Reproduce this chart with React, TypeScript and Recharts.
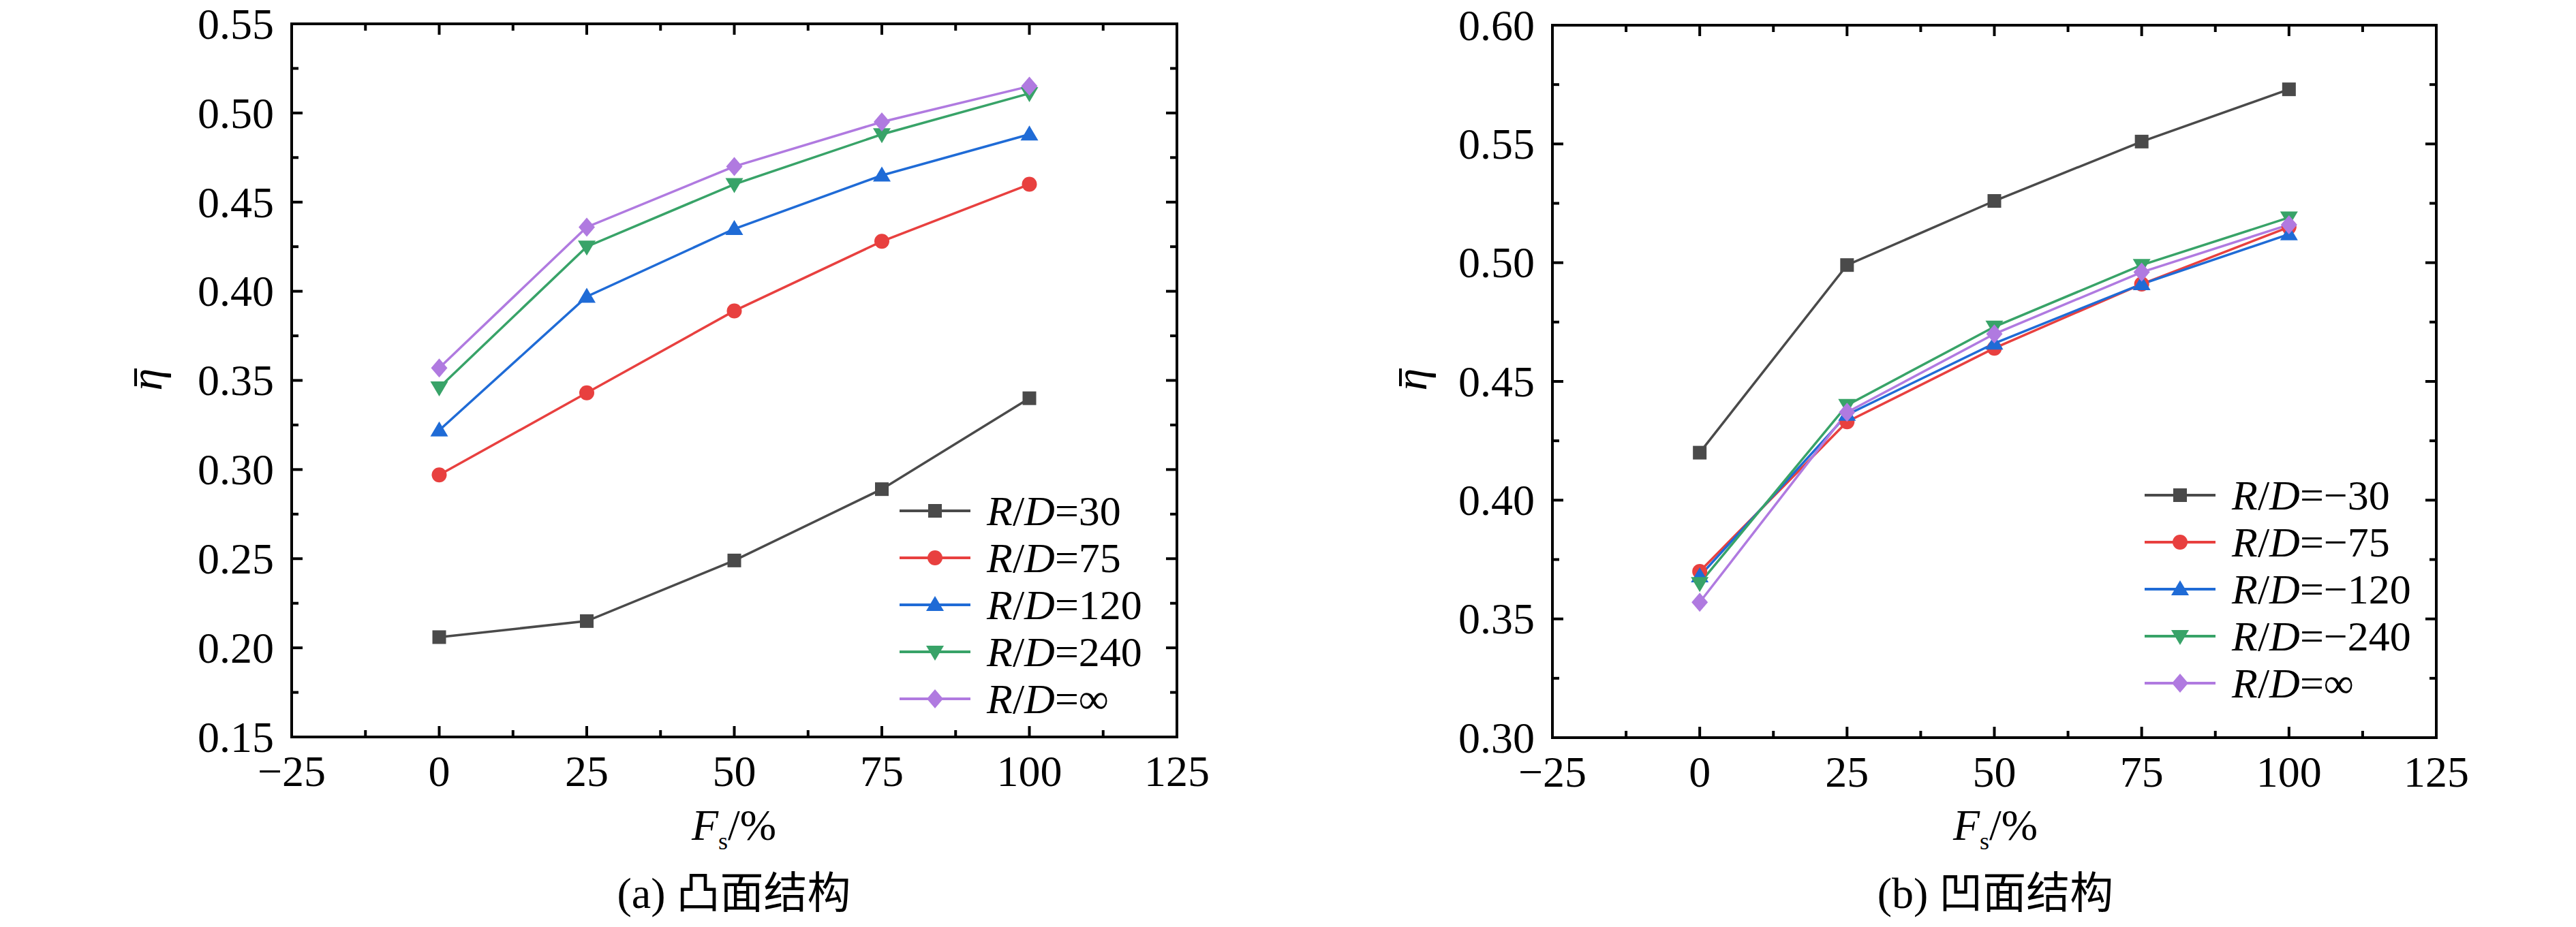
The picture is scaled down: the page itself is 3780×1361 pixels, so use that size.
import React from "react"
import { LineChart, Line, XAxis, YAxis } from "recharts"

// x positions (F_s, %)
const FS = [0, 25, 50, 75, 100]

// (a) convex
const CONVEX_30 = [0.206, 0.215, 0.249, 0.289, 0.34]
const CONVEX_75 = [0.297, 0.343, 0.389, 0.428, 0.46]
const CONVEX_120 = [0.322, 0.397, 0.435, 0.465, 0.488]
const CONVEX_240 = [0.346, 0.425, 0.46, 0.488, 0.511]
const CONVEX_INF = [0.357, 0.436, 0.47, 0.495, 0.515]

// (b) concave
const CONCAVE_30 = [0.42, 0.499, 0.526, 0.551, 0.573]
const CONCAVE_75 = [0.37, 0.433, 0.464, 0.491, 0.515]
const CONCAVE_120 = [0.368, 0.436, 0.466, 0.491, 0.512]
const CONCAVE_240 = [0.365, 0.44, 0.473, 0.499, 0.519]
const CONCAVE_INF = [0.357, 0.437, 0.47, 0.496, 0.516]

const LABELS_A = ["30", "75", "120", "240", "∞"]
const LABELS_B = ["−30", "−75", "−120", "−240", "∞"]

// major + minor ticks (even index = major)
const X_TICKS = [-25, -12.5, 0, 12.5, 25, 37.5, 50, 62.5, 75, 87.5, 100, 112.5, 125]
const Y_TICKS_A = [0.15, 0.175, 0.2, 0.225, 0.25, 0.275, 0.3, 0.325, 0.35, 0.375, 0.4, 0.425, 0.45, 0.475, 0.5, 0.525, 0.55]
const Y_TICKS_B = [0.3, 0.325, 0.35, 0.375, 0.4, 0.425, 0.45, 0.475, 0.5, 0.525, 0.55, 0.575, 0.6]

const SERIES = [
  { key: "s30", color: "#4a4a4a", shape: "square" },
  { key: "s75", color: "#e8403f", shape: "circle" },
  { key: "s120", color: "#1f6bd6", shape: "triUp" },
  { key: "s240", color: "#38a368", shape: "triDown" },
  { key: "sInf", color: "#b07ae0", shape: "diamond" },
]

const SERIF = '"Liberation Serif", "Times New Roman", serif'
const FS_TICK = 64

function build(cols: number[][]) {
  return FS.map((x, i) => ({
    x,
    s30: cols[0][i],
    s75: cols[1][i],
    s120: cols[2][i],
    s240: cols[3][i],
    sInf: cols[4][i],
  }))
}

const DATA_A = build([CONVEX_30, CONVEX_75, CONVEX_120, CONVEX_240, CONVEX_INF])
const DATA_B = build([CONCAVE_30, CONCAVE_75, CONCAVE_120, CONCAVE_240, CONCAVE_INF])

function Marker({ shape, cx, cy, color }: any) {
  if (cx == null || cy == null) return null
  switch (shape) {
    case "square":
      return <rect x={cx - 10} y={cy - 10} width={20} height={20} fill={color} />
    case "circle":
      return <circle cx={cx} cy={cy} r={11} fill={color} />
    case "triUp":
      return <path d={`M${cx},${cy - 13} L${cx + 13},${cy + 9} L${cx - 13},${cy + 9} Z`} fill={color} />
    case "triDown":
      return <path d={`M${cx},${cy + 13} L${cx + 13},${cy - 9} L${cx - 13},${cy - 9} Z`} fill={color} />
    default:
      return <path d={`M${cx},${cy - 14} L${cx + 12},${cy} L${cx},${cy + 14} L${cx - 12},${cy} Z`} fill={color} />
  }
}

const fmtX = (v: number) => (v < 0 ? "−" + Math.abs(v) : String(v))

const BottomTick = ({ x, y, payload, index }: any) => {
  const major = index % 2 === 0
  return (
    <g>
      <line x1={x} x2={x} y1={y} y2={y - (major ? 16 : 10)} stroke="#000" strokeWidth={4} />
      {major && (
        <text x={x} y={y + 72} textAnchor="middle" fontSize={FS_TICK} fontFamily={SERIF} fill="#000">
          {fmtX(payload.value)}
        </text>
      )}
    </g>
  )
}

const TopTick = ({ x, y, index }: any) => (
  <line x1={x} x2={x} y1={y} y2={y + (index % 2 === 0 ? 16 : 10)} stroke="#000" strokeWidth={4} />
)

const LeftTick = ({ x, y, payload, index }: any) => {
  const major = index % 2 === 0
  return (
    <g>
      <line x1={x} x2={x + (major ? 16 : 10)} y1={y} y2={y} stroke="#000" strokeWidth={4} />
      {major && (
        <text x={x - 26} y={y} dy="0.34em" textAnchor="end" fontSize={FS_TICK} fontFamily={SERIF} fill="#000">
          {payload.value.toFixed(2)}
        </text>
      )}
    </g>
  )
}

const RightTick = ({ x, y, index }: any) => (
  <line x1={x} x2={x - (index % 2 === 0 ? 16 : 10)} y1={y} y2={y} stroke="#000" strokeWidth={4} />
)

const AXIS_LINE = { stroke: "#000", strokeWidth: 4, strokeLinecap: "square" as const }

function Panel({ data, yTicks, left, margin }: any) {
  const domain = [yTicks[0], yTicks[yTicks.length - 1]]
  return (
    <div style={{ position: "absolute", left, top: 0 }}>
      <LineChart width={1890} height={1361} data={data} margin={margin}>
        <XAxis
          dataKey="x" type="number" domain={[-25, 125]} ticks={X_TICKS} interval={0}
          height={1} tickSize={0} tickMargin={0} tickLine={false} axisLine={AXIS_LINE}
          tick={<BottomTick />} allowDataOverflow
        />
        <XAxis
          xAxisId="t" orientation="top" dataKey="x" type="number" domain={[-25, 125]} ticks={X_TICKS}
          interval={0} height={1} tickSize={0} tickMargin={0} tickLine={false} axisLine={AXIS_LINE}
          tick={<TopTick />} allowDataOverflow
        />
        <YAxis
          type="number" domain={domain} ticks={yTicks} interval={0} width={1}
          tickSize={0} tickMargin={0} tickLine={false} axisLine={AXIS_LINE}
          tick={<LeftTick />} allowDataOverflow
        />
        <YAxis
          yAxisId="r" orientation="right" type="number" domain={domain} ticks={yTicks} interval={0} width={1}
          tickSize={0} tickMargin={0} tickLine={false} axisLine={AXIS_LINE}
          tick={<RightTick />} allowDataOverflow
        />
        {SERIES.map(s => (
          <Line
            key={s.key}
            type="linear"
            dataKey={s.key}
            stroke={s.color}
            strokeWidth={3.5}
            isAnimationActive={false}
            dot={(p: any) => <Marker key={`${s.key}-${p.index}`} shape={s.shape} cx={p.cx} cy={p.cy} color={s.color} />}
            activeDot={false}
          />
        ))}
      </LineChart>
    </div>
  )
}

function LegendBlock({ x, y, labels }: any) {
  return (
    <g>
      {SERIES.map((s, i) => {
        const cy = y + i * 69
        return (
          <g key={s.key}>
            <line x1={x} x2={x + 104} y1={cy} y2={cy} stroke={s.color} strokeWidth={4} />
            <Marker shape={s.shape} cx={x + 52} cy={cy} color={s.color} />
            <text x={x + 128} y={cy} dy="0.34em" fontSize={62} fontFamily={SERIF} fill="#000">
              <tspan fontStyle="italic">R</tspan>/<tspan fontStyle="italic">D</tspan>={labels[i]}
            </text>
          </g>
        )
      })}
    </g>
  )
}

function Titles({ cx, etaX, caption }: any) {
  return (
    <g fontFamily={SERIF} fill="#000">
      <text x={cx} y={1233} textAnchor="middle" fontSize={64}>
        <tspan fontStyle="italic">F</tspan>
        <tspan fontSize={36} dy={14}>s</tspan>
        <tspan dy={-14}>/%</tspan>
      </text>
      <g transform={`translate(${etaX},557) rotate(-90)`}>
        <text x={0} y={12} textAnchor="middle" fontSize={66} fontStyle="italic">η</text>
        <line x1={-10} x2={16} y1={-26} y2={-26} stroke="#000" strokeWidth={4} />
      </g>
      <text x={cx} y={1333} textAnchor="middle" fontSize={64} fontFamily={'"Liberation Serif", "Noto Sans CJK SC", serif'}>
        {caption}
      </text>
    </g>
  )
}

export default function App() {
  return (
    <div style={{ position: "relative", width: 3780, height: 1361, background: "#fff", overflow: "hidden" }}>
      <style>{`body{margin:0}`}</style>
      <Panel data={DATA_A} yTicks={Y_TICKS_A} left={0} margin={{ top: 34, right: 162, bottom: 278, left: 427 }} />
      <Panel data={DATA_B} yTicks={Y_TICKS_B} left={1890} margin={{ top: 36, right: 204, bottom: 277, left: 387 }} />
      <svg width={3780} height={1361} style={{ position: "absolute", left: 0, top: 0, pointerEvents: "none" }}>
        <LegendBlock x={1320} y={750} labels={LABELS_A} />
        <LegendBlock x={3147} y={727} labels={LABELS_B} />
        <Titles cx={1077} etaX={225} caption="(a) 凸面结构" />
        <Titles cx={2928} etaX={2081} caption="(b) 凹面结构" />
      </svg>
    </div>
  )
}
